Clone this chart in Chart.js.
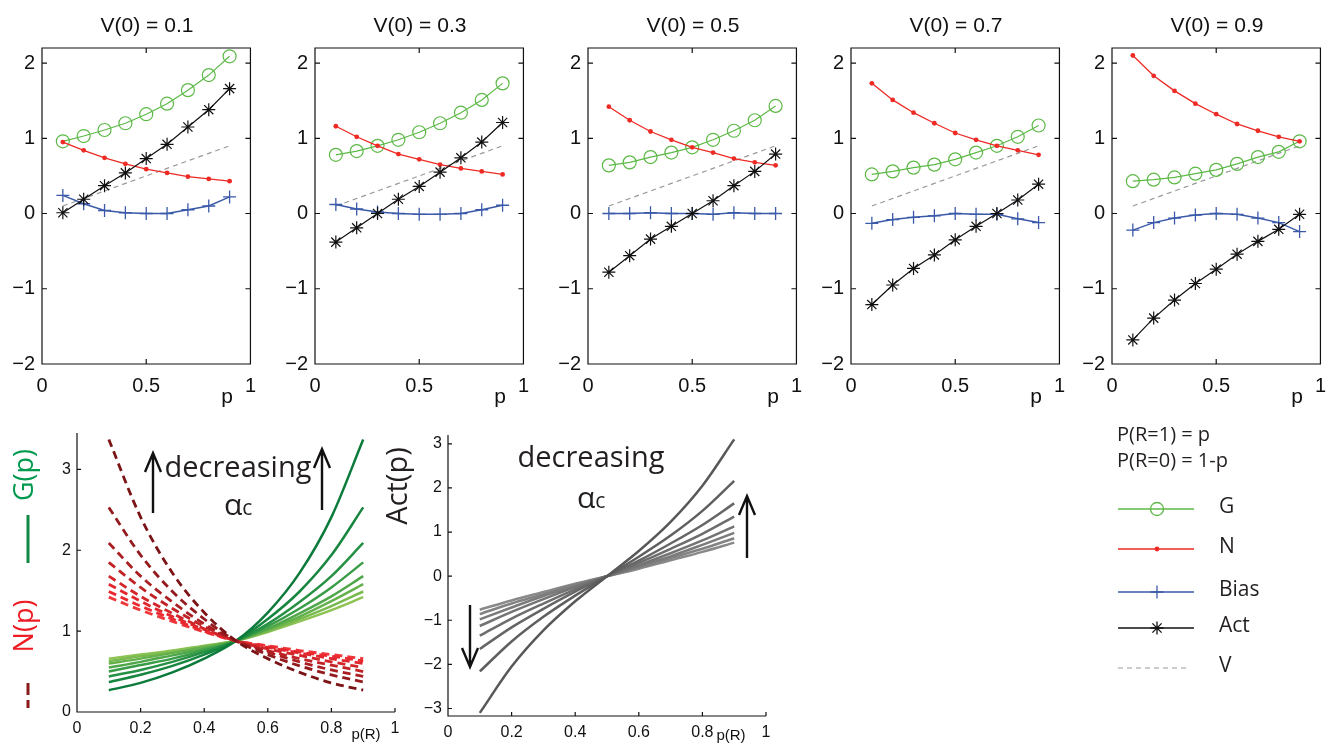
<!DOCTYPE html>
<html>
<head>
<meta charset="utf-8">
<script src="https://cdn.jsdelivr.net/npm/chart.js@4.4.1/dist/chart.umd.min.js"></script>
<style>
  body { margin: 0; background: #fff; }
  #wrap { position: relative; width: 1339px; height: 745px; overflow: hidden; }
  #wrap canvas { position: absolute; }
</style>
</head>
<body>
<div id="wrap"></div>
<script>
// reward probabilities on the x axis
const pValues = [0.1, 0.2, 0.3, 0.4, 0.5, 0.6, 0.7, 0.8, 0.9];
const v0Titles = ['V(0) = 0.1', 'V(0) = 0.3', 'V(0) = 0.5', 'V(0) = 0.7', 'V(0) = 0.9'];

// top row: one list per V(0)
const gByV0 = [
  [0.96, 1.03, 1.11, 1.20, 1.32, 1.46, 1.64, 1.84, 2.09],
  [0.78, 0.83, 0.90, 0.98, 1.08, 1.20, 1.34, 1.51, 1.73],
  [0.64, 0.68, 0.75, 0.81, 0.88, 0.98, 1.10, 1.24, 1.43],
  [0.52, 0.56, 0.61, 0.65, 0.72, 0.81, 0.90, 1.02, 1.17],
  [0.43, 0.45, 0.48, 0.53, 0.58, 0.66, 0.75, 0.82, 0.96]
];
const nByV0 = [
  [0.95, 0.84, 0.74, 0.66, 0.59, 0.54, 0.49, 0.46, 0.43],
  [1.16, 1.02, 0.90, 0.79, 0.72, 0.65, 0.60, 0.56, 0.52],
  [1.42, 1.24, 1.09, 0.98, 0.88, 0.81, 0.73, 0.68, 0.64],
  [1.73, 1.51, 1.34, 1.20, 1.07, 0.98, 0.90, 0.84, 0.78],
  [2.10, 1.83, 1.63, 1.46, 1.32, 1.19, 1.10, 1.02, 0.96]
];
const biasByV0 = [
  [0.24, 0.13, 0.04, 0.01, 0.00, 0.00, 0.05, 0.10, 0.22],
  [0.12, 0.06, 0.02, 0.00, -0.01, -0.01, 0.00, 0.05, 0.11],
  [0.00, 0.00, 0.01, 0.00, 0.00, -0.01, 0.01, 0.00, 0.00],
  [-0.13, -0.08, -0.05, -0.03, 0.00, -0.01, -0.01, -0.07, -0.12],
  [-0.22, -0.12, -0.06, -0.02, 0.00, -0.01, -0.06, -0.12, -0.24]
];
const actByV0 = [
  [0.01, 0.19, 0.37, 0.54, 0.73, 0.92, 1.15, 1.38, 1.66],
  [-0.38, -0.19, 0.00, 0.19, 0.36, 0.55, 0.74, 0.95, 1.21],
  [-0.78, -0.56, -0.34, -0.17, 0.00, 0.17, 0.37, 0.56, 0.79],
  [-1.21, -0.95, -0.73, -0.55, -0.35, -0.17, 0.00, 0.18, 0.39],
  [-1.68, -1.39, -1.15, -0.93, -0.74, -0.54, -0.37, -0.21, -0.01]
];
const vValues = [0.1, 0.2, 0.3, 0.4, 0.5, 0.6, 0.7, 0.8, 0.9];
const topXTicks = [0, 0.5, 1];
const topYTicks = [-2, -1, 0, 1, 2];

// bottom row: curves for decreasing alpha_c (first = smallest alpha_c)
const gCurves = [
  [0.27, 0.36, 0.49, 0.66, 0.88, 1.23, 1.72, 2.41, 3.37],
  [0.37, 0.46, 0.57, 0.71, 0.88, 1.15, 1.49, 1.94, 2.53],
  [0.44, 0.52, 0.62, 0.74, 0.88, 1.09, 1.36, 1.68, 2.09],
  [0.50, 0.58, 0.66, 0.76, 0.88, 1.06, 1.28, 1.54, 1.85],
  [0.55, 0.62, 0.70, 0.78, 0.88, 1.03, 1.22, 1.43, 1.68],
  [0.60, 0.66, 0.73, 0.80, 0.88, 1.02, 1.18, 1.37, 1.58],
  [0.63, 0.69, 0.74, 0.81, 0.88, 1.00, 1.15, 1.31, 1.49],
  [0.66, 0.71, 0.76, 0.82, 0.88, 0.99, 1.12, 1.26, 1.42]
];
const nCurves = [
  [3.37, 2.41, 1.72, 1.23, 0.88, 0.66, 0.49, 0.36, 0.27],
  [2.53, 1.94, 1.49, 1.15, 0.88, 0.71, 0.57, 0.46, 0.37],
  [2.09, 1.68, 1.36, 1.09, 0.88, 0.74, 0.62, 0.52, 0.44],
  [1.85, 1.54, 1.28, 1.06, 0.88, 0.76, 0.66, 0.58, 0.50],
  [1.68, 1.43, 1.22, 1.03, 0.88, 0.78, 0.70, 0.62, 0.55],
  [1.58, 1.37, 1.18, 1.02, 0.88, 0.80, 0.73, 0.66, 0.60],
  [1.49, 1.31, 1.15, 1.00, 0.88, 0.81, 0.74, 0.69, 0.63],
  [1.42, 1.26, 1.12, 0.99, 0.88, 0.82, 0.76, 0.71, 0.66]
];
const actCurves = [
  [-3.10, -2.05, -1.23, -0.57, 0, 0.57, 1.23, 2.05, 3.10],
  [-2.16, -1.48, -0.92, -0.44, 0, 0.44, 0.92, 1.48, 2.16],
  [-1.65, -1.16, -0.74, -0.35, 0, 0.35, 0.74, 1.16, 1.65],
  [-1.35, -0.96, -0.62, -0.30, 0, 0.30, 0.62, 0.96, 1.35],
  [-1.13, -0.81, -0.52, -0.25, 0, 0.25, 0.52, 0.81, 1.13],
  [-0.98, -0.71, -0.45, -0.22, 0, 0.22, 0.45, 0.71, 0.98],
  [-0.86, -0.62, -0.41, -0.19, 0, 0.19, 0.41, 0.62, 0.86],
  [-0.76, -0.55, -0.36, -0.17, 0, 0.17, 0.36, 0.55, 0.76]
];
const bottomXTicks = [0, 0.2, 0.4, 0.6, 0.8, 1];
const gnYTicks = [0, 1, 2, 3];
const actYTicks = [-3, -2, -1, 0, 1, 2, 3];

const greenShades = ['#0b7a3a', '#17863f', '#269144', '#399c47', '#4fa74a', '#64b14c', '#79ba4f', '#8dc352'];
const redShades = ['#7a1416', '#931a1d', '#aa1e22', '#c02226', '#d2252a', '#e0272d', '#ea2a30', '#f0383b'];
const greyShades = ['#585858', '#5f5f5f', '#666666', '#6d6d6d', '#747474', '#7b7b7b', '#828282', '#898989'];

const SANS = '"Liberation Sans", Arial, sans-serif';
const MYRIAD = '"Open Sans", sans-serif';
const wrap = document.getElementById('wrap');

function addCanvas(left, top, w, h) {
  const c = document.createElement('canvas');
  c.width = w; c.height = h;
  c.style.left = left + 'px'; c.style.top = top + 'px';
  c.style.width = w + 'px'; c.style.height = h + 'px';
  wrap.appendChild(c);
  return c;
}

const toPoints = ys => pValues.map((p, i) => ({ x: p, y: ys[i] }));
const fmtTick = v => (v < 0 ? '\u2212' + Math.abs(v) : String(v));

// frame (box or L-shaped axes) with inward ticks, MATLAB style
const axesFrame = {
  id: 'axesFrame',
  afterDraw(chart, args, opts) {
    const { ctx, chartArea: a } = chart;
    const x = chart.scales.x, y = chart.scales.y;
    ctx.save();
    ctx.strokeStyle = opts.color;
    ctx.lineWidth = opts.width;
    ctx.beginPath();
    if (opts.box) {
      ctx.rect(a.left, a.top, a.right - a.left, a.bottom - a.top);
    } else {
      ctx.moveTo(a.left, a.top);
      ctx.lineTo(a.left, a.bottom);
      ctx.lineTo(a.right, a.bottom);
    }
    x.ticks.forEach(t => {
      const px = x.getPixelForValue(t.value);
      ctx.moveTo(px, a.bottom); ctx.lineTo(px, a.bottom - opts.tick);
      if (opts.box) { ctx.moveTo(px, a.top); ctx.lineTo(px, a.top + opts.tick); }
    });
    y.ticks.forEach(t => {
      const py = y.getPixelForValue(t.value);
      ctx.moveTo(a.left, py); ctx.lineTo(a.left + opts.tick, py);
      if (opts.box) { ctx.moveTo(a.right, py); ctx.lineTo(a.right - opts.tick, py); }
    });
    ctx.stroke();
    ctx.restore();
  }
};

function makeChart(canvas, datasets, cfg) {
  const axis = (ticks, min, max, fit, pad) => ({
    type: 'linear', min, max,
    afterFit: fit,
    afterBuildTicks: s => { s.ticks = ticks.map(v => ({ value: v })); },
    grid: { display: false, drawTicks: false },
    border: { display: false },
    ticks: {
      font: { family: SANS, size: cfg.fontSize },
      color: '#111',
      padding: pad,
      autoSkip: false,
      maxRotation: 0,
      callback: v => fmtTick(v)
    }
  });
  return new Chart(canvas, {
    type: 'line',
    data: { datasets },
    options: {
      responsive: false,
      animation: false,
      events: [],
      layout: { padding: { top: cfg.padTop, right: cfg.padRight, left: 0, bottom: 0 } },
      plugins: {
        legend: { display: false },
        tooltip: { enabled: false },
        axesFrame: { box: cfg.box, tick: cfg.tick, color: '#111', width: 1.2 }
      },
      scales: {
        x: axis(cfg.xTicks, cfg.xMin, cfg.xMax, s => { s.height = cfg.xAxisH; }, cfg.xPad),
        y: axis(cfg.yTicks, cfg.yMin, cfg.yMax, s => { s.width = cfg.yAxisW; }, cfg.yPad)
      }
    },
    plugins: [axesFrame]
  });
}

// ---- top row ----
const topLefts = [42, 315, 588, 851, 1112];
topLefts.forEach((boxLeft, k) => {
  const canvas = addCanvas(boxLeft - 50, 0, 274, 420);
  const datasets = [
    {
      data: toPoints(actByV0[k]), borderColor: '#111', borderWidth: 1.2,
      pointStyle: 'star', pointRadius: 6.5, pointBorderColor: '#111', pointBorderWidth: 1.2,
      pointBackgroundColor: 'transparent', tension: 0
    },
    {
      data: toPoints(biasByV0[k]), borderColor: '#3a59a8', borderWidth: 1.4,
      pointStyle: 'cross', pointRadius: 6.5, pointBorderColor: '#3a59a8', pointBorderWidth: 1.3,
      tension: 0
    },
    {
      data: toPoints(nByV0[k]), borderColor: '#ee2a24', borderWidth: 1.3,
      pointStyle: 'circle', pointRadius: 2.4, pointBackgroundColor: '#ee2a24', pointBorderWidth: 0,
      tension: 0
    },
    {
      data: toPoints(gByV0[k]), borderColor: '#5cb946', borderWidth: 1.2,
      pointStyle: 'circle', pointRadius: 6.5, pointBorderColor: '#5cb946', pointBorderWidth: 1.2,
      pointBackgroundColor: 'transparent', tension: 0
    },
    {
      data: toPoints(vValues), borderColor: '#999', borderWidth: 1.2, borderDash: [5, 4],
      pointRadius: 0, tension: 0
    }
  ];
  makeChart(canvas, datasets, {
    box: true, tick: 5, fontSize: 20,
    padTop: 48, padRight: 14, xAxisH: 56, yAxisW: 50, xPad: 10, yPad: 7,
    xMin: 0, xMax: 1, yMin: -2, yMax: 2.2,
    xTicks: topXTicks, yTicks: topYTicks
  });
});

// ---- bottom left: G(p) solid, N(p) dashed ----
{
  const canvas = addCanvas(0, 410, 420, 335);
  const datasets = [];
  nCurves.forEach((ys, i) => datasets.push({
    data: toPoints(ys), borderColor: redShades[i], borderWidth: 2.8, borderDash: [8, 5],
    pointRadius: 0, cubicInterpolationMode: 'monotone'
  }));
  gCurves.forEach((ys, i) => datasets.push({
    data: toPoints(ys), borderColor: greenShades[i], borderWidth: 2.5,
    pointRadius: 0, cubicInterpolationMode: 'monotone'
  }));
  makeChart(canvas, datasets, {
    box: false, tick: 4, fontSize: 16,
    padTop: 23, padRight: 25, xAxisH: 33, yAxisW: 77, xPad: 7, yPad: 6,
    xMin: 0, xMax: 1, yMin: 0, yMax: 3.45,
    xTicks: bottomXTicks, yTicks: gnYTicks
  });
}

// ---- bottom right: Act(p) ----
{
  const canvas = addCanvas(380, 410, 410, 335);
  const datasets = actCurves.map((ys, i) => ({
    data: toPoints(ys), borderColor: greyShades[i], borderWidth: 2.5,
    pointRadius: 0, cubicInterpolationMode: 'monotone'
  }));
  makeChart(canvas, datasets, {
    box: false, tick: 4, fontSize: 16,
    padTop: 25, padRight: 24, xAxisH: 29, yAxisW: 68, xPad: 7, yPad: 6,
    xMin: 0, xMax: 1, yMin: -3.17, yMax: 3.2,
    xTicks: bottomXTicks, yTicks: actYTicks
  });
}

// ---- labels, arrows and key drawn over the charts ----
const overlay = addCanvas(0, 0, 1339, 745);
overlay.style.pointerEvents = 'none';
const ctx = overlay.getContext('2d');

function text(str, x, y, font, color, align) {
  ctx.font = font;
  ctx.fillStyle = color;
  ctx.textAlign = align || 'left';
  ctx.textBaseline = 'alphabetic';
  ctx.fillText(str, x, y);
}
function vText(str, x, y, font, color) {
  ctx.save();
  ctx.translate(x, y);
  ctx.rotate(-Math.PI / 2);
  text(str, 0, 0, font, color, 'center');
  ctx.restore();
}
function arrow(x, y0, y1) {
  const dir = Math.sign(y1 - y0);
  ctx.save();
  ctx.strokeStyle = '#111';
  ctx.lineWidth = 2.4;
  ctx.beginPath();
  ctx.moveTo(x, y0); ctx.lineTo(x, y1);
  ctx.moveTo(x - 8, y1 - dir * 19); ctx.lineTo(x, y1); ctx.lineTo(x + 8, y1 - dir * 19);
  ctx.stroke();
  ctx.restore();
}
function seg(x0, y0, x1, y1, color, width, dash) {
  ctx.save();
  ctx.strokeStyle = color;
  ctx.lineWidth = width;
  ctx.setLineDash(dash || []);
  ctx.beginPath();
  ctx.moveTo(x0, y0); ctx.lineTo(x1, y1);
  ctx.stroke();
  ctx.restore();
}
function alphaC(x, y) {
  text('\u03b1', x, y, '30px ' + MYRIAD, '#231f20');
  ctx.font = '30px ' + MYRIAD;
  const w = ctx.measureText('\u03b1').width;
  text('c', x + w, y, '21px ' + MYRIAD, '#231f20');
}

// top titles and x labels
topLefts.forEach((boxLeft, k) => {
  text(v0Titles[k], boxLeft + 105, 32, '21px ' + SANS, '#111', 'center');
  text('p', boxLeft + 185, 403, '21px ' + SANS, '#111', 'center');
});

// bottom left annotations
vText('G(p)', 33, 475, '27px ' + MYRIAD, '#009a4e');
seg(28, 515, 28, 563, '#0f8a45', 3);
vText('N(p)', 33, 626, '27px ' + MYRIAD, '#ed1c24');
seg(28, 683, 28, 708, '#8b1a1a', 3, [12, 5]);
text('decreasing', 238, 477, '29px ' + MYRIAD, '#231f20', 'center');
alphaC(224, 515);
arrow(153, 513, 453);
arrow(322, 510, 449);
text('p(R)', 366, 739, '15px ' + SANS, '#111', 'center');

// bottom right annotations
vText('Act(p)', 407, 486, '29px ' + MYRIAD, '#231f20');
text('decreasing', 591, 467, '29px ' + MYRIAD, '#231f20', 'center');
alphaC(577, 508);
arrow(470, 605, 667);
arrow(747, 558, 496);
text('p(R)', 731, 740, '15px ' + SANS, '#111', 'center');

// key
text('P(R=1) = p', 1117, 441, '20px ' + MYRIAD, '#231f20');
text('P(R=0) = 1-p', 1117, 467, '20px ' + MYRIAD, '#231f20');
const keyRows = [
  { label: 'G', y: 509, color: '#5cb946', marker: 'circle' },
  { label: 'N', y: 549, color: '#ee2a24', marker: 'dot' },
  { label: 'Bias', y: 592, color: '#3a59a8', marker: 'cross' },
  { label: 'Act', y: 628, color: '#111', marker: 'star' },
  { label: 'V', y: 668, color: '#999', marker: 'none' }
];
keyRows.forEach(r => {
  if (r.marker === 'none') {
    seg(1118, r.y, 1190, r.y, r.color, 1.2, [5, 4]);
  } else {
    seg(1118, r.y, 1194, r.y, r.color, 1.3);
  }
  const mx = 1157;
  ctx.save();
  ctx.strokeStyle = r.color;
  ctx.fillStyle = r.color;
  ctx.lineWidth = 1.3;
  ctx.beginPath();
  if (r.marker === 'circle') {
    ctx.arc(mx, r.y, 6.5, 0, Math.PI * 2);
    ctx.stroke();
  } else if (r.marker === 'dot') {
    ctx.arc(mx, r.y, 2.4, 0, Math.PI * 2);
    ctx.fill();
  } else if (r.marker === 'cross') {
    ctx.moveTo(mx - 6.5, r.y); ctx.lineTo(mx + 6.5, r.y);
    ctx.moveTo(mx, r.y - 6.5); ctx.lineTo(mx, r.y + 6.5);
    ctx.stroke();
  } else if (r.marker === 'star') {
    for (let a = 0; a < 4; a++) {
      const ang = a * Math.PI / 4;
      ctx.moveTo(mx - 6.5 * Math.cos(ang), r.y - 6.5 * Math.sin(ang));
      ctx.lineTo(mx + 6.5 * Math.cos(ang), r.y + 6.5 * Math.sin(ang));
    }
    ctx.stroke();
  }
  ctx.restore();
  text(r.label, 1219, r.y + 4, '21px ' + MYRIAD, '#231f20');
});
</script>
</body>
</html>
